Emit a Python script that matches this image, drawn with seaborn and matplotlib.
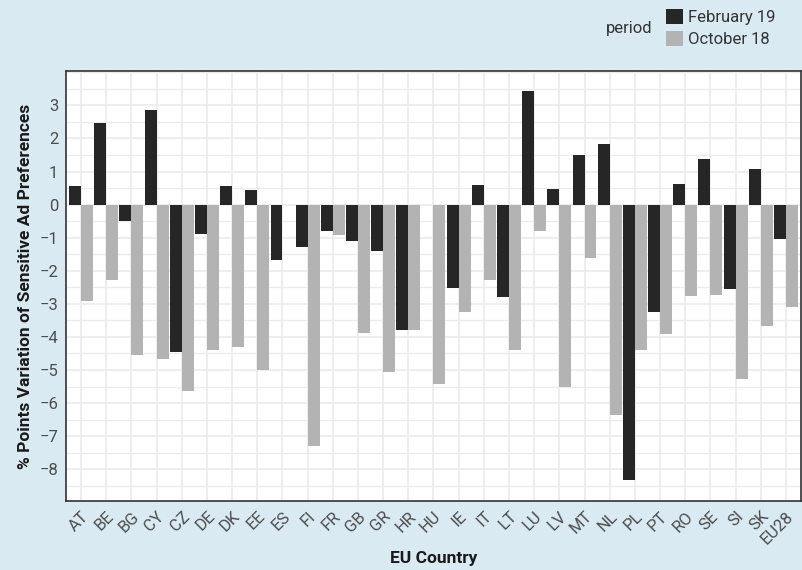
import numpy as np
import pandas as pd
import matplotlib.pyplot as plt
import seaborn as sns
from matplotlib.patches import Patch
from matplotlib.ticker import MultipleLocator

# values
countries = ['AT', 'BE', 'BG', 'CY', 'CZ', 'DE', 'DK', 'EE', 'ES', 'FI', 'FR', 'GB', 'GR', 'HR', 'HU',
             'IE', 'IT', 'LT', 'LU', 'LV', 'MT', 'NL', 'PL', 'PT', 'RO', 'SE', 'SI', 'SK', 'EU28']
feb19 = [0.57, 2.46, -0.48, 2.85, -4.46, -0.89, 0.57, 0.45, -1.67, -1.28, -0.80, -1.10, -1.40, -3.80, -0.02,
         -2.52, 0.60, -2.78, 3.45, 0.48, 1.50, 1.83, -8.33, -3.26, 0.63, 1.38, -2.54, 1.08, -1.04]
oct18 = [-2.90, -2.27, -4.55, -4.68, -5.63, -4.40, -4.31, -5.00, 0.0, -7.31, -0.92, -3.89, -5.06, -3.80, -5.42,
         -3.24, -2.27, -4.40, -0.80, -5.51, -1.61, -6.35, -4.40, -3.92, -2.75, -2.72, -5.27, -3.68, -3.11]
periods = ['February 19', 'October 18']
colors = ['#262626', '#b3b3b3']

df = pd.DataFrame({
    'country': countries * 2,
    'value': feb19 + oct18,
    'period': [periods[0]] * len(countries) + [periods[1]] * len(countries),
})

sns.set_style('white')
plt.rcParams['font.family'] = ['Roboto', 'DejaVu Sans']

bg = '#daeaf3'
fig = plt.figure(figsize=(8.02, 5.70), dpi=100, facecolor=bg)
ax = fig.add_axes([66 / 802, 1 - 501 / 570, 735 / 802, 430 / 570])
ax.set_facecolor('white')

sns.barplot(data=df, x='country', y='value', hue='period', hue_order=periods,
            palette=colors, order=countries, width=0.95, saturation=1,
            edgecolor='none', linewidth=0, legend=False, ax=ax)

ax.set_xlim(-0.6, len(countries) - 0.4)
ax.set_ylim(-8.96, 4.04)
ax.yaxis.set_major_locator(MultipleLocator(1))
ax.yaxis.set_minor_locator(MultipleLocator(0.5))
ax.set_axisbelow(True)
ax.grid(True, which='major', color='#ebebeb', linewidth=1.2)
ax.grid(True, which='minor', axis='y', color='#ebebeb', linewidth=0.9)

for s in ax.spines.values():
    s.set_visible(True)
    s.set_color('#333333')
    s.set_linewidth(1.2)

ax.tick_params(axis='both', which='major', direction='out', length=3.5, width=1.1,
               color='#333333', labelcolor='#4d4d4d', labelsize=12, pad=2)
ax.tick_params(axis='y', which='minor', length=0)
ax.set_yticks(range(-8, 4))
ax.set_yticklabels([str(v).replace('-', '\u2212') for v in range(-8, 4)])
plt.setp(ax.get_xticklabels(), rotation=45, ha='right', rotation_mode='anchor')

ax.set_xlabel('EU Country', fontsize=12.5, fontweight='bold', color='#1a1a1a', labelpad=3)
ax.set_ylabel('% Points Variation of Sensitive Ad Preferences', fontsize=12.5,
              fontweight='bold', color='#1a1a1a', labelpad=5)

handles = [Patch(facecolor=c, edgecolor='none') for c in colors]
fig.legend(handles, periods, loc='upper left', bbox_to_anchor=(666 / 802, 1 - 9 / 570),
           frameon=False, fontsize=12, handlelength=1.0, handleheight=1.0,
           handletextpad=0.35, labelspacing=0.35, borderpad=0, borderaxespad=0,
           labelcolor='#333333')
fig.text(652 / 802, 1 - 29 / 570, 'period', ha='right', va='center', fontsize=12, color='#333333')

fig.savefig('out.png', dpi=100, facecolor=bg)
